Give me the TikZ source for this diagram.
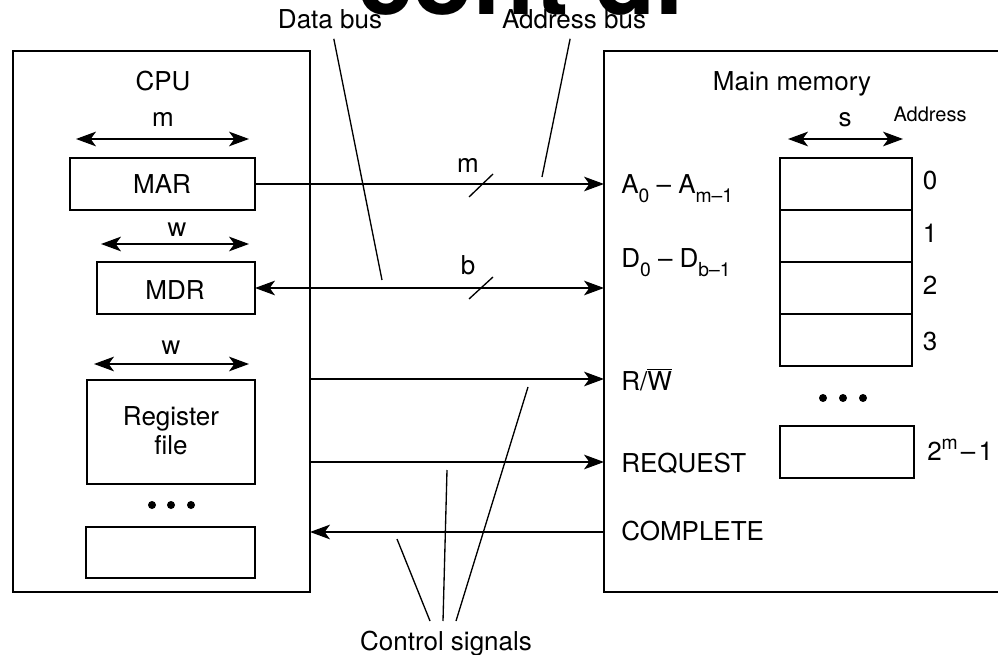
\documentclass[tikz,border=0pt]{standalone}
\usepackage{fontspec}
\setmainfont{TeX Gyre Heros}
\usetikzlibrary{arrows.meta,calc}
\newcommand{\mysub}[1]{\raisebox{-6.5pt}{\fontsize{14.5}{15}\selectfont #1}}
\newcommand{\mysup}[1]{\raisebox{8pt}{\fontsize{14.5}{15}\selectfont #1}}
\tikzset{
  box/.style={draw, line width=1pt, inner sep=0pt, outer sep=0pt},
  lbl/.style={font=\fontsize{19.5}{21.75}\selectfont, inner sep=0pt, anchor=base},
  lblw/.style={font=\fontsize{19.5}{21.75}\selectfont, inner sep=0pt, anchor=base west},
  small/.style={font=\fontsize{15}{16}\selectfont, inner sep=0pt, anchor=base},
  tip/.tip={Stealth[length=15pt,width=11pt,inset=4pt]},
  arr/.style={line width=1pt, -tip},
  larr/.style={line width=1pt, tip-},
  darr/.style={line width=1pt, tip-tip},
  ptr/.style={line width=1pt},
  dot/.style={circle, fill, inner sep=0pt, minimum size=6pt}
}
\begin{document}
\begin{tikzpicture}[x=0.75pt,y=-0.75pt]
\useasboundingbox (0,0) rectangle (998,655);
\clip (0,0) rectangle (998,655);

% heading fragment
\node[anchor=base west, font=\bfseries\fontsize{75}{80}\selectfont, inner sep=0pt] (cont) at (357,15) {cont’d.};

% CPU side
\node[box, minimum width=222.75pt, minimum height=405.75pt] (cpu) at (161.5,321.5) {};
\node[lbl] (cpulbl) at (163,91) {CPU};
\node[box, minimum width=138.75pt, minimum height=39pt] (mar) at (162.5,184) {};
\node[lbl] (martxt) at (162,194) {MAR};
\node[box, minimum width=118.5pt, minimum height=39pt] (mdr) at (176,288) {};
\node[lbl] (mdrtxt) at (175,300) {MDR};
\node[box, minimum width=126pt, minimum height=78pt] (reg) at (171,432) {};
\node[lbl, align=center] (regtxt) at (171,454) {Register\\file};
\node[box, minimum width=126.75pt, minimum height=38.25pt] (extra) at (170.5,552.5) {};
\node[dot] (cd1) at (152,505) {};
\node[dot] (cd2) at (171,505) {};
\node[dot] (cd3) at (191,505) {};

% width arrows in CPU
\coordinate (ma1) at (76,139); \coordinate (ma2) at (249,139);
\draw[darr] (ma1) -- (ma2);
\node[lbl] (mlbl) at (163,127) {m};
\coordinate (wa1) at (101,244); \coordinate (wa2) at (249,244);
\draw[darr] (wa1) -- (wa2);
\node[lbl] (wlbl1) at (177,237) {w};
\coordinate (wb1) at (94,364); \coordinate (wb2) at (249,364);
\draw[darr] (wb1) -- (wb2);
\node[lbl] (wlbl2) at (171,355) {w};

% Memory side
\node[box, minimum width=312pt, minimum height=405.75pt] (mem) at (812,321.5) {};
\node[lbl] (memlbl) at (792,91) {Main memory};
\coordinate (sa1) at (788,139); \coordinate (sa2) at (903,139);
\draw[darr] (sa1) -- (sa2);
\node[lbl] (slbl) at (845,127) {s};
\node[small] (addr) at (930,122) {Address};
\foreach \i/\y in {0/184,1/236,2/288,3/340}{
  \node[box, minimum width=99pt, minimum height=39pt] (cell\i) at (846,\y) {};
}
\node[lbl] (a0) at (930,190) {0};
\node[lbl] (a1) at (930,243) {1};
\node[lbl] (a2) at (930,295) {2};
\node[lbl] (a3) at (930,351) {3};
\node[dot] (md1) at (823,398) {};
\node[dot] (md2) at (843,398) {};
\node[dot] (md3) at (863,398) {};
\node[box, minimum width=100.5pt, minimum height=39pt] (celln) at (847,452) {};
\node[lblw] (an) at (927,460) {2\mysup{m}\hspace{0.12em}–\hspace{0.12em}1};

\node[lblw] (alines) at (621,194) {A\mysub{0} – A\mysub{m–1}};
\node[lblw] (dlines) at (621,268) {D\mysub{0} – D\mysub{b–1}};
\node[lblw] (rw) at (621,390) {R/\smash{$\overline{\hbox{W}}$}};
\node[lblw] (req) at (621,472) {REQUEST};
\node[lblw] (cmp) at (621,540) {COMPLETE};

% buses
\draw[arr] (mar.east) -- (mar.east -| mem.west);
\draw[darr] (mdr.east) -- (mdr.east -| mem.west);
\coordinate (yrw) at (0,379);
\coordinate (yreq) at (0,462);
\coordinate (ycmp) at (0,532);
\draw[arr] (cpu.east |- yrw) -- (mem.west |- yrw);
\draw[arr] (cpu.east |- yreq) -- (mem.west |- yreq);
\draw[larr] (cpu.east |- ycmp) -- (mem.west |- ycmp);

\coordinate (sl1) at (481,185.5);
\coordinate (sl2) at (481,288);
\draw[ptr] ($(sl1)+(-12,11.5)$) -- ($(sl1)+(12,-11.5)$);
\draw[ptr] ($(sl2)+(-12,11)$) -- ($(sl2)+(12,-11)$);
\node[lbl] (mbus) at (468,173) {m};
\node[lbl] (bbus) at (468,275) {b};

% labels with pointer lines
\node[lbl] (dbus) at (330,29) {Data bus};
\node[lbl] (abus) at (574,29) {Address bus};
\coordinate (dbtip) at (382,280);
\coordinate (abtip) at (542,177);
\draw[ptr, shorten <=7pt] (dbus) -- (dbtip);
\draw[ptr, shorten <=7pt] (abus) -- (abtip);

\node[lbl] (ctl) at (446,650) {Control signals};
\coordinate (cs1) at (430,621); \coordinate (ct1) at (397,539);
\coordinate (cs2) at (443,621); \coordinate (ct2) at (447,470);
\coordinate (cs3) at (456,621); \coordinate (ct3) at (528,387);
\draw[ptr] (cs1) -- (ct1);
\draw[ptr] (cs2) -- (ct2);
\draw[ptr] (cs3) -- (ct3);
\end{tikzpicture}
\end{document}
